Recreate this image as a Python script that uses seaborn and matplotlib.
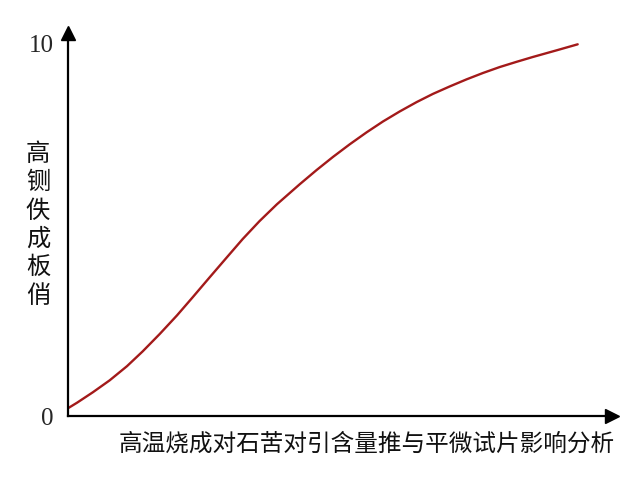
import matplotlib
matplotlib.use("Agg")
import matplotlib.pyplot as plt
import seaborn as sns
import pandas as pd

# values
x_vals = [0.0, 0.18, 0.49, 0.82, 1.16, 1.47, 1.80, 2.14, 2.45, 2.78, 3.12,
          3.43, 3.76, 4.10, 4.55, 4.88, 5.20, 5.53, 5.86, 6.18, 6.51,
          6.84, 7.16, 7.49, 7.82, 8.14, 8.47, 8.80, 9.12, 9.59, 10.0]
y_vals = [0.21, 0.36, 0.64, 0.96, 1.34, 1.74, 2.20, 2.70, 3.19, 3.72, 4.26,
          4.75, 5.23, 5.68, 6.22, 6.60, 6.95, 7.29, 7.61, 7.90, 8.17,
          8.42, 8.64, 8.84, 9.03, 9.20, 9.36, 9.50, 9.63, 9.81, 9.97]
y_ticks = [0, 10]
y_ticklabels = ["0", "10"]
x_title = "高温烧成对石苦对引含量推与平微试片影响分析"
y_title = "高铡佚成板俏"

df = pd.DataFrame({"x": x_vals, "y": y_vals})

sns.set_style("white")
plt.rcParams["font.family"] = ["Noto Sans CJK SC", "DejaVu Sans"]

fig = plt.figure(figsize=(6.4, 4.8), dpi=100)
ax = fig.add_axes([0.106, 0.133, 0.85, 0.798])

sns.lineplot(data=df, x="x", y="y", ax=ax, color="#a31a1a", linewidth=1.7)

ax.set_xlim(0, 10.67)
ax.set_ylim(0, 10.27)
ax.spines["top"].set_visible(False)
ax.spines["right"].set_visible(False)
for s in ["left", "bottom"]:
    ax.spines[s].set_color("black")
    ax.spines[s].set_linewidth(1.6)

# arrow heads on the axes
ax.plot(1, 0, ">k", markersize=10, transform=ax.transAxes, clip_on=False)
ax.plot(0, 1, "^k", markersize=10, transform=ax.transAxes, clip_on=False)

ax.set_xticks([])
ax.set_yticks(y_ticks)
ax.set_yticklabels(y_ticklabels, family="Liberation Serif", fontsize=18)
ax.tick_params(axis="y", length=0, pad=10)

ax.set_xlabel(x_title, fontsize=17, color="#111111")
ax.xaxis.set_label_coords(0.55, -0.042)
ax.set_ylabel("\n".join(y_title), rotation=0, fontsize=17.5, linespacing=1.12,
              color="#111111", va="center", ha="center")
ax.yaxis.set_label_coords(-0.055, 0.50)

fig.savefig("out.png", dpi=100)
